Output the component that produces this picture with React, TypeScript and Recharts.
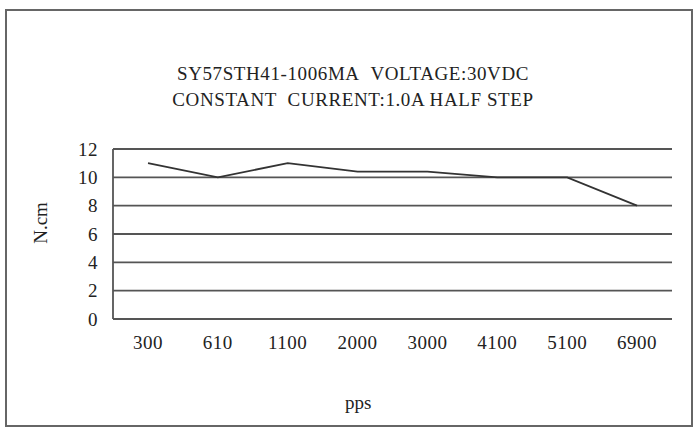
import { LineChart, Line, XAxis, YAxis, CartesianGrid } from "recharts";

// speed (pps) categories and torque readings (N.cm)
const speeds = ["300", "610", "1100", "2000", "3000", "4100", "5100", "6900"];
const torque = [11, 10, 11, 10.4, 10.4, 10, 10, 8];
const yTicks = [0, 2, 4, 6, 8, 10, 12];

const chartData = speeds.map((s, i) => ({ pps: s, torque: torque[i] }));

const serif = "'Liberation Serif', 'Times New Roman', serif";
const tickStyle = { fill: "#222", fontSize: 19, fontFamily: serif, letterSpacing: 0.5 };

export default function App() {
  return (
    <div
      style={{
        position: "absolute",
        left: 0,
        top: 0,
        width: 694,
        height: 428,
        background: "#fff",
        fontFamily: serif,
      }}
    >
      {/* outer frame */}
      <div
        style={{
          position: "absolute",
          left: 5,
          top: 9,
          width: 684,
          height: 414,
          border: "2px solid #666",
        }}
      />
      <div
        style={{
          position: "absolute",
          left: 0,
          width: 706,
          top: 61,
          textAlign: "center",
          fontSize: 19,
          letterSpacing: 0.6,
          lineHeight: "26px",
          color: "#222",
        }}
      >
        <div>SY57STH41-1006MA&nbsp;&nbsp;VOLTAGE:30VDC</div>
        <div>CONSTANT&nbsp;&nbsp;CURRENT:1.0A HALF STEP</div>
      </div>
      <LineChart
        width={694}
        height={428}
        data={chartData}
        margin={{ top: 149, right: 22, bottom: 79, left: 73 }}
        style={{ position: "absolute", left: 0, top: 0 }}
      >
        <CartesianGrid vertical={false} stroke="#555" strokeWidth={1.8} />
        <XAxis
          dataKey="pps"
          padding={{ left: 35, right: 35 }}
          tickLine={false}
          axisLine={{ stroke: "#555", strokeWidth: 1.8 }}
          tick={tickStyle}
          tickMargin={11}
          interval={0}
        />
        <YAxis
          domain={[0, 12]}
          ticks={yTicks}
          width={40}
          tickLine={false}
          axisLine={{ stroke: "#555", strokeWidth: 1.8 }}
          tick={tickStyle}
          tickMargin={9}
        />
        <YAxis
          yAxisId="r"
          orientation="right"
          width={0}
          tick={false}
          tickLine={false}
          axisLine={{ stroke: "#555", strokeWidth: 1.8 }}
        />
        <Line
          type="linear"
          dataKey="torque"
          stroke="#333"
          strokeWidth={1.8}
          dot={false}
          isAnimationActive={false}
        />
      </LineChart>
      <div
        style={{
          position: "absolute",
          left: 20,
          top: 212,
          transform: "rotate(-90deg)",
          fontSize: 19,
          color: "#222",
        }}
      >
        N.cm
      </div>
      <div
        style={{
          position: "absolute",
          left: 345,
          top: 392,
          fontSize: 19,
          color: "#222",
        }}
      >
        pps
      </div>
    </div>
  );
}
